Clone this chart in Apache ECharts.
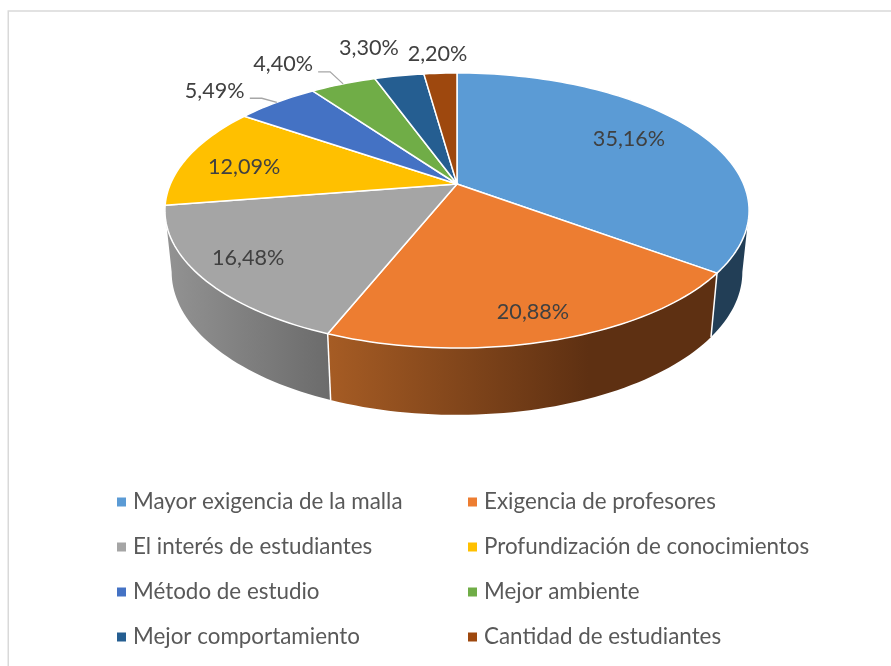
<!DOCTYPE html>
<html><head><meta charset="utf-8">
<style>html,body{margin:0;padding:0;background:#fff}#c{width:891px;height:666px}</style>
<script src="https://cdn.jsdelivr.net/npm/echarts@6/dist/echarts.min.js"></script>
</head><body><div id="c"></div>
<script>
const categories=['Mayor exigencia de la malla','Exigencia de profesores','El interés de estudiantes','Profundización de conocimientos','Método de estudio','Mejor ambiente','Mejor comportamiento','Cantidad de estudiantes'];
const percentages=[35.16,20.88,16.48,12.09,5.49,4.40,3.30,2.20];
const colors=['#5B9BD5','#ED7D31','#A5A5A5','#FFC000','#4472C4','#70AD47','#255E91','#9E480E'];
const sideStops=[['#223E56','#223E56'],['#A65C24','#5E3012'],['#939393','#6B6B6B'],['#997300','#997300'],['#2A4A7A','#2A4A7A'],['#44682B','#44682B'],['#173A58','#173A58'],['#602C08','#602C08']];
const labelPlace=[[.738,-2.8],[.845,.5],[.829,1.1],[.773,-3],[1.27,-4.8],[1.32,-6.1],[1.336,-2.8],[1.213,0]];
const leaderBend={4:[[-15,-4],[-27,-4]],5:[[-13,-12],[-25,-12]]};
const FONT='Lato, Carlito, sans-serif';
const top_={cx:457,cy:184,s:286.6,t:132.4,k:.1927};
const bot_={cx:457,cy:244.4,s:280,t:137.6,k:.1927};
function proj(p,thetaDeg,r){r=r==null?1:r;const a=thetaDeg*Math.PI/180,x=r*Math.sin(a),y=-r*Math.cos(a),d=1-p.k*y;return [p.cx+p.s*x/d,p.cy+p.t*y/d];}
const total=percentages.reduce((a,b)=>a+b,0);
let acc=0;
const spans=percentages.map(v=>{const a=acc/total*360;acc+=v;return [a,acc/total*360];});
const tangent=Math.acos(-top_.k)*180/Math.PI;

function arc(p,a,b){const n=Math.max(2,Math.ceil(Math.abs(b-a)/1.5)),o=[];for(let i=0;i<=n;i++)o.push(proj(p,a+(b-a)*i/n));return o;}

function renderItem(params,api){
  const i=params.seriesIndex,[a,b]=spans[i],children=[];
  const sideA=Math.max(a,tangent),sideB=Math.min(b,360-tangent);
  if(sideB>sideA){
    const T=arc(top_,sideA,sideB),B=arc(bot_,sideA,sideB);
    const st=sideStops[i];
    const fill=i===1?new echarts.graphic.LinearGradient(0,0,1,0,[{offset:0,color:st[0]},{offset:.67,color:st[1]},{offset:1,color:st[1]}])
      :i===2?new echarts.graphic.LinearGradient(0,0,1,0,[{offset:0,color:st[0]},{offset:1,color:st[1]}]):st[0];
    children.push({type:'polygon',z2:1,shape:{points:T.concat(B.slice().reverse())},style:{fill:fill,stroke:null}});
    if(a>tangent&&a<360-tangent) children.push({type:'line',z2:2,shape:{x1:proj(top_,a)[0],y1:proj(top_,a)[1],x2:proj(bot_,a)[0],y2:proj(bot_,a)[1]},style:{stroke:'#fff',lineWidth:1.5}});
  }
  const face=[[top_.cx,top_.cy]].concat(arc(top_,a,b));
  children.push({type:'polygon',z2:10,shape:{points:face},style:{fill:colors[i],stroke:'#fff',lineWidth:1.5,lineJoin:'round'}});
  const lp=labelPlace[i],mid=(a+b)/2,pos=proj(top_,mid+lp[1],lp[0]);
  children.push({type:'text',z2:30,style:{x:pos[0],y:pos[1],text:percentages[i].toFixed(2).replace('.',',')+'%',fill:'#404040',font:'21.6px '+FONT,align:'center',verticalAlign:'middle'}});
  if(leaderBend[i]){
    const e=proj(top_,mid),pts=[e].concat(leaderBend[i].map(d=>[e[0]+d[0],e[1]+d[1]]));
    children.push({type:'polyline',z2:20,shape:{points:pts},style:{stroke:'#A6A6A6',lineWidth:1.3,fill:null}});
  }
  return {type:'group',children};
}

const chart=echarts.init(document.getElementById('c'),null,{renderer:'canvas'});
const legendBase={orient:'vertical',itemWidth:9,itemHeight:9,itemGap:21,icon:'rect',selectedMode:false,textStyle:{fontFamily:FONT,fontSize:22.4,lineHeight:24,color:'#595959',padding:[0,0,0,2]},padding:0};
chart.setOption({
  animation:false,
  backgroundColor:'#fff',
  tooltip:{show:false},
  legend:[
    Object.assign({},legendBase,{left:117,top:490,data:categories.filter((c,i)=>i%2===0)}),
    Object.assign({},legendBase,{left:468,top:490,data:categories.filter((c,i)=>i%2===1)})
  ],
  graphic:[{type:'polyline',shape:{points:[[8.25,666],[8.25,11],[891,11]]},style:{fill:null,stroke:'#D9D9D9',lineWidth:1.5},silent:true,z:-1}],
  series:categories.map((name,i)=>({type:'custom',name,coordinateSystem:'none',silent:true,z:3,itemStyle:{color:colors[i]},renderItem,data:[percentages[i]]}))
});
</script></body></html>
